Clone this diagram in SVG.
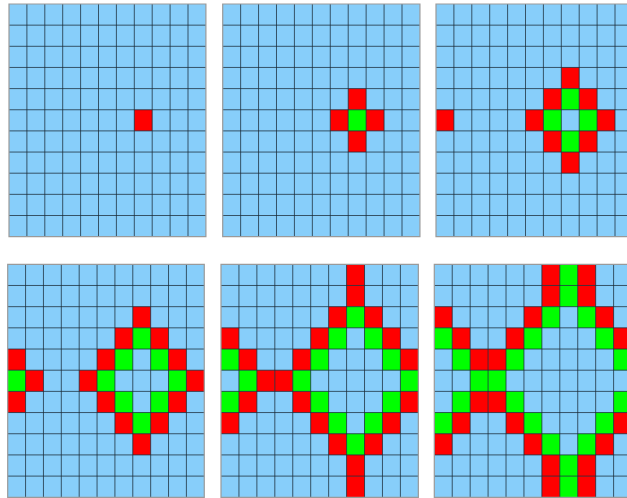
<svg xmlns="http://www.w3.org/2000/svg" xmlns:xlink="http://www.w3.org/1999/xlink" width="627" height="498" viewBox="0 0 627 498">
<style>
.bg{fill:#87cefa}
.r{fill:#ff0000}
.g{fill:#00ff00}
.gl{fill:none;stroke:#1a2a35;stroke-opacity:0.75;stroke-width:1}
.bd{fill:none;stroke:#9a9a9a;stroke-width:1.2}
rect,path{vector-effect:non-scaling-stroke}
</style>
<defs>
<rect id="bgr" class="bg" width="11" height="11"/>
<path id="grid" class="gl" d="M1 0V11M2 0V11M3 0V11M4 0V11M5 0V11M6 0V11M7 0V11M8 0V11M9 0V11M10 0V11M0 1H11M0 2H11M0 3H11M0 4H11M0 5H11M0 6H11M0 7H11M0 8H11M0 9H11M0 10H11"/>
<rect id="bdr" class="bd" width="11" height="11"/>
</defs>
<rect width="627" height="498" fill="#ffffff"/>
<g id="panel1" transform="translate(9,4) scale(17.9,21.15)">
<use xlink:href="#bgr"/>
<rect class="r" x="7" y="5" width="1" height="1"/>
<use xlink:href="#grid"/><use xlink:href="#bdr"/>
</g>
<g id="panel2" transform="translate(222.7,4) scale(17.93,21.15)">
<use xlink:href="#bgr"/>
<rect class="r" x="7" y="4" width="1" height="1"/>
<rect class="r" x="6" y="5" width="1" height="1"/><rect class="g" x="7" y="5" width="1" height="1"/><rect class="r" x="8" y="5" width="1" height="1"/>
<rect class="r" x="7" y="6" width="1" height="1"/>
<use xlink:href="#grid"/><use xlink:href="#bdr"/>
</g>
<g id="panel3" transform="translate(436,4) scale(17.9,21.15)">
<use xlink:href="#bgr"/>
<rect class="r" x="7" y="3" width="1" height="1"/>
<rect class="r" x="6" y="4" width="1" height="1"/><rect class="g" x="7" y="4" width="1" height="1"/><rect class="r" x="8" y="4" width="1" height="1"/>
<rect class="r" x="0" y="5" width="1" height="1"/><rect class="r" x="5" y="5" width="1" height="1"/><rect class="g" x="6" y="5" width="1" height="1"/><rect class="g" x="8" y="5" width="1" height="1"/><rect class="r" x="9" y="5" width="1" height="1"/>
<rect class="r" x="6" y="6" width="1" height="1"/><rect class="g" x="7" y="6" width="1" height="1"/><rect class="r" x="8" y="6" width="1" height="1"/>
<rect class="r" x="7" y="7" width="1" height="1"/>
<use xlink:href="#grid"/><use xlink:href="#bdr"/>
</g>
<g id="panel4" transform="translate(7.7,264.3) scale(17.87,21.18)">
<use xlink:href="#bgr"/>
<rect class="r" x="7" y="2" width="1" height="1"/>
<rect class="r" x="6" y="3" width="1" height="1"/><rect class="g" x="7" y="3" width="1" height="1"/><rect class="r" x="8" y="3" width="1" height="1"/>
<rect class="r" x="0" y="4" width="1" height="1"/><rect class="r" x="5" y="4" width="1" height="1"/><rect class="g" x="6" y="4" width="1" height="1"/><rect class="g" x="8" y="4" width="1" height="1"/><rect class="r" x="9" y="4" width="1" height="1"/>
<rect class="g" x="0" y="5" width="1" height="1"/><rect class="r" x="1" y="5" width="1" height="1"/><rect class="r" x="4" y="5" width="1" height="1"/><rect class="g" x="5" y="5" width="1" height="1"/><rect class="g" x="9" y="5" width="1" height="1"/><rect class="r" x="10" y="5" width="1" height="1"/>
<rect class="r" x="0" y="6" width="1" height="1"/><rect class="r" x="5" y="6" width="1" height="1"/><rect class="g" x="6" y="6" width="1" height="1"/><rect class="g" x="8" y="6" width="1" height="1"/><rect class="r" x="9" y="6" width="1" height="1"/>
<rect class="r" x="6" y="7" width="1" height="1"/><rect class="g" x="7" y="7" width="1" height="1"/><rect class="r" x="8" y="7" width="1" height="1"/>
<rect class="r" x="7" y="8" width="1" height="1"/>
<use xlink:href="#grid"/><use xlink:href="#bdr"/>
</g>
<g id="panel5" transform="translate(221,264.3) scale(17.94,21.18)">
<use xlink:href="#bgr"/>
<rect class="r" x="7" y="0" width="1" height="1"/>
<rect class="r" x="7" y="1" width="1" height="1"/>
<rect class="r" x="6" y="2" width="1" height="1"/><rect class="g" x="7" y="2" width="1" height="1"/><rect class="r" x="8" y="2" width="1" height="1"/>
<rect class="r" x="0" y="3" width="1" height="1"/><rect class="r" x="5" y="3" width="1" height="1"/><rect class="g" x="6" y="3" width="1" height="1"/><rect class="g" x="8" y="3" width="1" height="1"/><rect class="r" x="9" y="3" width="1" height="1"/>
<rect class="g" x="0" y="4" width="1" height="1"/><rect class="r" x="1" y="4" width="1" height="1"/><rect class="r" x="4" y="4" width="1" height="1"/><rect class="g" x="5" y="4" width="1" height="1"/><rect class="g" x="9" y="4" width="1" height="1"/><rect class="r" x="10" y="4" width="1" height="1"/>
<rect class="g" x="1" y="5" width="1" height="1"/><rect class="r" x="2" y="5" width="1" height="1"/><rect class="r" x="3" y="5" width="1" height="1"/><rect class="g" x="4" y="5" width="1" height="1"/><rect class="g" x="10" y="5" width="1" height="1"/>
<rect class="g" x="0" y="6" width="1" height="1"/><rect class="r" x="1" y="6" width="1" height="1"/><rect class="r" x="4" y="6" width="1" height="1"/><rect class="g" x="5" y="6" width="1" height="1"/><rect class="g" x="9" y="6" width="1" height="1"/><rect class="r" x="10" y="6" width="1" height="1"/>
<rect class="r" x="0" y="7" width="1" height="1"/><rect class="r" x="5" y="7" width="1" height="1"/><rect class="g" x="6" y="7" width="1" height="1"/><rect class="g" x="8" y="7" width="1" height="1"/><rect class="r" x="9" y="7" width="1" height="1"/>
<rect class="r" x="6" y="8" width="1" height="1"/><rect class="g" x="7" y="8" width="1" height="1"/><rect class="r" x="8" y="8" width="1" height="1"/>
<rect class="r" x="7" y="9" width="1" height="1"/>
<rect class="r" x="7" y="10" width="1" height="1"/>
<use xlink:href="#grid"/><use xlink:href="#bdr"/>
</g>
<g id="panel6" transform="translate(434.3,264.3) scale(17.93,21.18)">
<use xlink:href="#bgr"/>
<rect class="r" x="6" y="0" width="1" height="1"/><rect class="g" x="7" y="0" width="1" height="1"/><rect class="r" x="8" y="0" width="1" height="1"/>
<rect class="r" x="6" y="1" width="1" height="1"/><rect class="g" x="7" y="1" width="1" height="1"/><rect class="r" x="8" y="1" width="1" height="1"/>
<rect class="r" x="0" y="2" width="1" height="1"/><rect class="r" x="5" y="2" width="1" height="1"/><rect class="g" x="6" y="2" width="1" height="1"/><rect class="g" x="8" y="2" width="1" height="1"/><rect class="r" x="9" y="2" width="1" height="1"/>
<rect class="g" x="0" y="3" width="1" height="1"/><rect class="r" x="1" y="3" width="1" height="1"/><rect class="r" x="4" y="3" width="1" height="1"/><rect class="g" x="5" y="3" width="1" height="1"/><rect class="g" x="9" y="3" width="1" height="1"/><rect class="r" x="10" y="3" width="1" height="1"/>
<rect class="g" x="1" y="4" width="1" height="1"/><rect class="r" x="2" y="4" width="1" height="1"/><rect class="r" x="3" y="4" width="1" height="1"/><rect class="g" x="4" y="4" width="1" height="1"/><rect class="g" x="10" y="4" width="1" height="1"/>
<rect class="g" x="2" y="5" width="1" height="1"/><rect class="g" x="3" y="5" width="1" height="1"/>
<rect class="g" x="1" y="6" width="1" height="1"/><rect class="r" x="2" y="6" width="1" height="1"/><rect class="r" x="3" y="6" width="1" height="1"/><rect class="g" x="4" y="6" width="1" height="1"/><rect class="g" x="10" y="6" width="1" height="1"/>
<rect class="g" x="0" y="7" width="1" height="1"/><rect class="r" x="1" y="7" width="1" height="1"/><rect class="r" x="4" y="7" width="1" height="1"/><rect class="g" x="5" y="7" width="1" height="1"/><rect class="g" x="9" y="7" width="1" height="1"/><rect class="r" x="10" y="7" width="1" height="1"/>
<rect class="r" x="0" y="8" width="1" height="1"/><rect class="r" x="5" y="8" width="1" height="1"/><rect class="g" x="6" y="8" width="1" height="1"/><rect class="g" x="8" y="8" width="1" height="1"/><rect class="r" x="9" y="8" width="1" height="1"/>
<rect class="r" x="6" y="9" width="1" height="1"/><rect class="g" x="7" y="9" width="1" height="1"/><rect class="r" x="8" y="9" width="1" height="1"/>
<rect class="r" x="6" y="10" width="1" height="1"/><rect class="g" x="7" y="10" width="1" height="1"/><rect class="r" x="8" y="10" width="1" height="1"/>
<use xlink:href="#grid"/><use xlink:href="#bdr"/>
</g>
</svg>
